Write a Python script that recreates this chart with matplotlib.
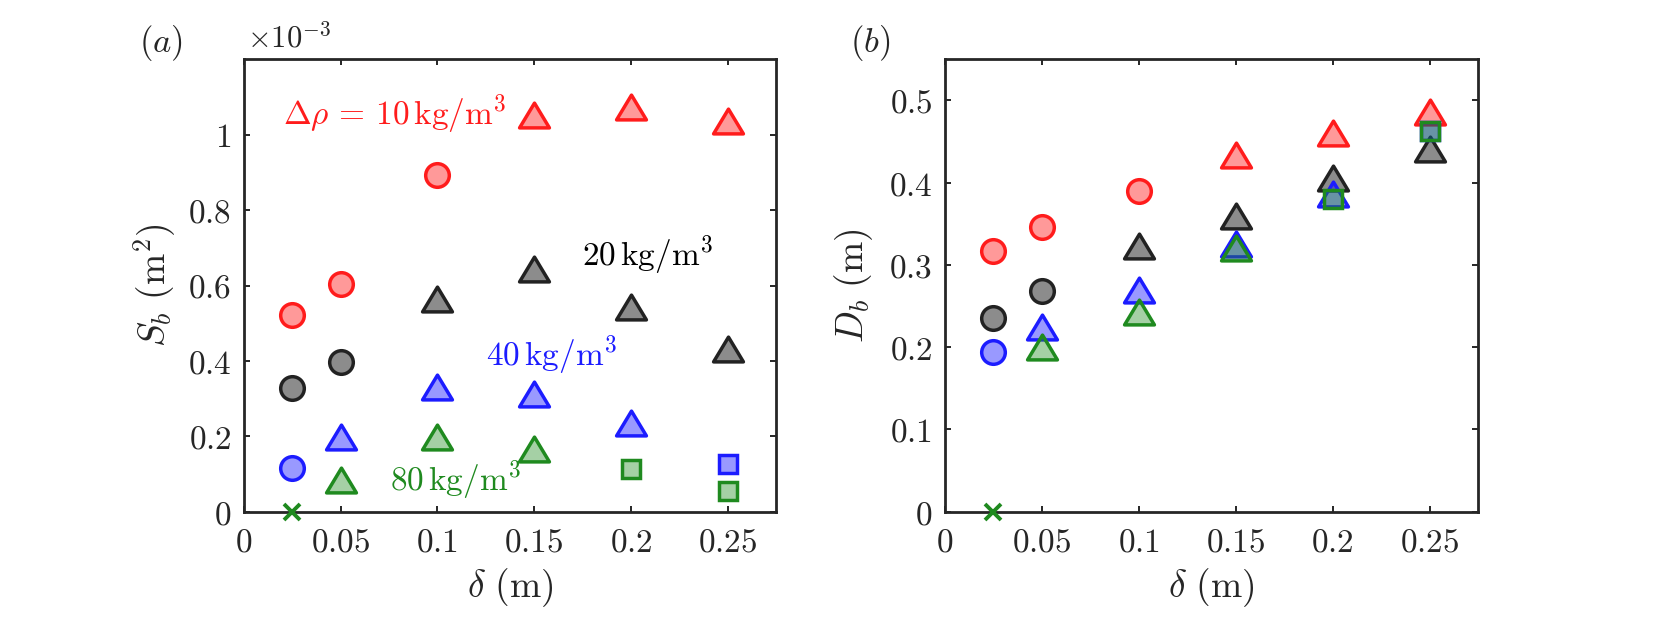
import numpy as np
import matplotlib
matplotlib.use("Agg")
import matplotlib.pyplot as plt
from matplotlib.path import Path
from matplotlib.ticker import FuncFormatter

plt.rcParams["mathtext.fontset"] = "cm"
plt.rcParams["font.family"] = ["DejaVu Serif"]

# delta (m), same for every density
DELTA = [0.025, 0.05, 0.1, 0.15, 0.2, 0.25]

# marker shape of each point: o = circle, ^ = triangle, s = square, x = no bubble
MK_10 = ["o", "o", "o", "^", "^", "^"]
MK_20 = ["o", "o", "^", "^", "^", "^"]
MK_40 = ["o", "^", "^", "^", "^", "s"]
MK_80 = ["x", "^", "^", "^", "s", "s"]

# S_b in units of 1e-3 m^2
SB_10 = [0.522, 0.604, 0.894, 1.053, 1.074, 1.037]
SB_20 = [0.328, 0.397, 0.565, 0.643, 0.542, 0.432]
SB_40 = [0.115, 0.198, 0.332, 0.313, 0.234, 0.127]
SB_80 = [0.0, 0.083, 0.199, 0.167, 0.113, 0.056]

# D_b in m
DB_10 = [0.317, 0.346, 0.390, 0.434, 0.461, 0.486]
DB_20 = [0.236, 0.268, 0.323, 0.359, 0.406, 0.441]
DB_40 = [0.194, 0.225, 0.270, 0.325, 0.386, 0.463]
DB_80 = [0.0, 0.200, 0.243, 0.321, 0.380, 0.463]

COLORS = {
    10: ("#ff1c1c", (1.0, 0.0, 0.0, 0.40)),
    20: ("#222222", (0.0, 0.0, 0.0, 0.45)),
    40: ("#1c1cff", (0.0, 0.0, 1.0, 0.40)),
    80: ("#1f8a1f", (0.12, 0.54, 0.12, 0.40)),
}

TRI = Path([(-1, -0.83), (1, -0.83), (0, 0.83), (-1, -0.83)],
           [Path.MOVETO, Path.LINETO, Path.LINETO, Path.CLOSEPOLY])
SHAPE = {"o": ("o", 17), "^": (TRI, 21.5), "s": ("s", 13.5), "x": ("x", 12)}

TXT = "#262626"


def draw_series(ax, ys, marks, rho):
    ec, fc = COLORS[rho]
    for key in ["o", "^", "s", "x"]:
        idx = [i for i, m in enumerate(marks) if m == key]
        if not idx:
            continue
        mk, ms = SHAPE[key]
        xs = [DELTA[i] for i in idx]
        yv = [ys[i] for i in idx]
        if key == "x":
            ax.plot(xs, yv, ls="none", marker=mk, ms=ms, mew=2.8, color=ec,
                    clip_on=False, zorder=5)
        else:
            ax.plot(xs, yv, ls="none", marker=mk, ms=ms, mew=2.5,
                    mec=ec, mfc=fc, clip_on=False, zorder=3)


def style_axes(ax, yticks, ylim):
    ax.set_xlim(0, 0.275)
    ax.set_ylim(*ylim)
    ax.set_xticks([0, 0.05, 0.1, 0.15, 0.2, 0.25])
    ax.set_yticks(yticks)
    fmt = FuncFormatter(lambda v, p: r"$%g$" % round(v, 4))
    ax.xaxis.set_major_formatter(fmt)
    ax.yaxis.set_major_formatter(fmt)
    ax.tick_params(direction="in", length=4.5, width=1.4, colors=TXT,
                   labelsize=24, top=True, right=True)
    ax.tick_params(axis="x", pad=11)
    ax.tick_params(axis="y", pad=9)
    for s in ax.spines.values():
        s.set_linewidth(2.0)
        s.set_color(TXT)
    ax.set_xlabel(r"$\delta\ (\mathrm{m})$", fontsize=27, color=TXT)
    ax.xaxis.set_label_coords(0.5, -0.168)
    ax.xaxis.label.set_va("center")


fig = plt.figure(figsize=(16.67, 6.25), dpi=100)
ax1 = fig.add_axes([0.14637, 0.18128, 0.31914, 0.72384])
ax2 = fig.add_axes([0.56689, 0.18128, 0.31992, 0.72384])

# (a) S_b
for ys, mk, rho in [(SB_10, MK_10, 10), (SB_20, MK_20, 20),
                    (SB_40, MK_40, 40), (SB_80, MK_80, 80)]:
    draw_series(ax1, ys, mk, rho)
style_axes(ax1, [0, 0.2, 0.4, 0.6, 0.8, 1.0], (0, 1.2))
ax1.set_ylabel(r"$S_b\ (\mathrm{m}^2)$", fontsize=27, color=TXT)
ax1.yaxis.set_label_coords(-0.168, 0.5)
ax1.yaxis.label.set_va("center")

ax1.text(0.0203, 1.029, r"$\Delta\rho\,=\,10\,\mathrm{kg/m^3}$", color="#ff1c1c",
         fontsize=24, va="baseline")
ax1.text(0.1746, 0.653, r"$20\,\mathrm{kg/m^3}$", color="black",
         fontsize=24, va="baseline")
ax1.text(0.1251, 0.389, r"$40\,\mathrm{kg/m^3}$", color="#1c1cff",
         fontsize=24, va="baseline")
ax1.text(0.0756, 0.057, r"$80\,\mathrm{kg/m^3}$", color="#1f8a1f",
         fontsize=24, va="baseline")

# (b) D_b
for ys, mk, rho in [(DB_10, MK_10, 10), (DB_20, MK_20, 20),
                    (DB_40, MK_40, 40), (DB_80, MK_80, 80)]:
    draw_series(ax2, ys, mk, rho)
style_axes(ax2, [0, 0.1, 0.2, 0.3, 0.4, 0.5], (0, 0.55))
ax2.set_ylabel(r"$D_b\ (\mathrm{m})$", fontsize=27, color=TXT)
ax2.yaxis.set_label_coords(-0.172, 0.5)
ax2.yaxis.label.set_va("center")

fig.text(0.148, 0.9243, r"$\times 10^{-3}$", fontsize=22, color=TXT,
         va="baseline", ha="left")
fig.text(0.0834, 0.9317, r"$(a)$", fontsize=25, color=TXT, va="center")
fig.text(0.5099, 0.9317, r"$(b)$", fontsize=25, color=TXT, va="center")

fig.savefig("out.png", dpi=100, facecolor="white")
